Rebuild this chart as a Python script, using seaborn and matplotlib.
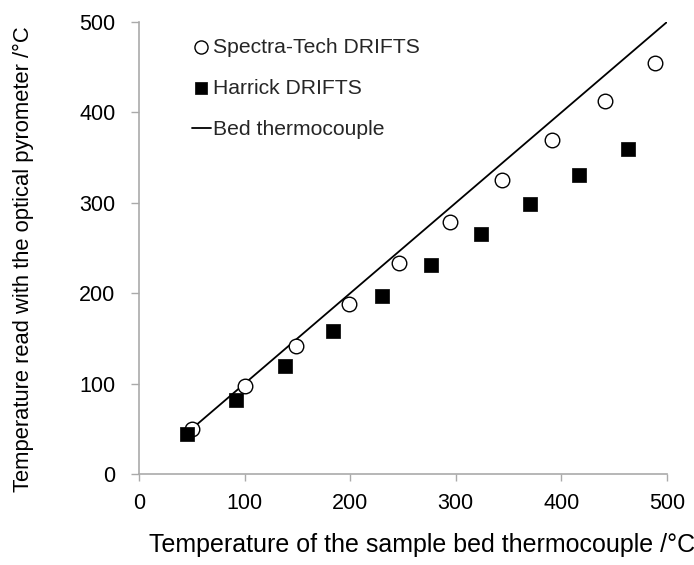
import matplotlib
matplotlib.use('Agg')
import matplotlib.pyplot as plt
import seaborn as sns

# ── DATA ──────────────────────────────────────────────────
spectra_x = [50, 100, 149, 199, 246, 295, 344, 391, 441, 489]
spectra_y = [50, 97, 142, 188, 233, 279, 325, 370, 413, 455]
harrick_x = [45, 92, 138, 184, 230, 277, 324, 370, 417, 463]
harrick_y = [44, 82, 119, 158, 197, 231, 266, 299, 331, 360]
bed_x = [47, 500]
bed_y = [47, 500]
ticks = [0, 100, 200, 300, 400, 500]

sns.set_theme(style='white')
plt.rcParams['font.family'] = ['Liberation Sans', 'DejaVu Sans']

fig = plt.figure(figsize=(6.94, 5.65), dpi=100, facecolor='white')
ax = fig.add_axes([0.2003, 0.161, 0.7607, 0.800])

sns.scatterplot(x=spectra_x, y=spectra_y, marker='o', s=110, color='white',
                edgecolor='black', linewidth=1.0, label='Spectra-Tech DRIFTS',
                ax=ax, zorder=3)
sns.scatterplot(x=harrick_x, y=harrick_y, marker='s', s=95, color='black',
                edgecolor='black', linewidth=0.5, label='Harrick DRIFTS',
                ax=ax, zorder=3)
sns.lineplot(x=bed_x, y=bed_y, color='black', linewidth=1.3,
             label='Bed thermocouple', ax=ax, zorder=2)

ax.set_xlim(0, 500); ax.set_ylim(0, 500)
ax.set_xticks(ticks); ax.set_yticks(ticks)
ax.tick_params(axis='both', labelsize=15.5, colors='#aaaaaa', labelcolor='black',
               direction='out', width=1, bottom=True, left=True)
ax.tick_params(axis='y', length=6, pad=11)
ax.tick_params(axis='x', length=5, pad=9)
for side in ['top', 'right']:
    ax.spines[side].set_visible(False)
for side in ['left', 'bottom']:
    ax.spines[side].set_color('#aaaaaa'); ax.spines[side].set_linewidth(1.2)

ax.set_xlabel('Temperature of the sample bed thermocouple /°C', fontsize=18,
              color='black')
ax.set_ylabel('Temperature read with the optical pyrometer /°C', fontsize=15.8,
              color='black')
ax.xaxis.set_label_coords(0.536, -0.13)
ax.yaxis.set_label_coords(-0.198, 0.476)

leg = ax.legend(loc='upper left', bbox_to_anchor=(0.064, 1.007), frameon=False,
                fontsize=15.2, handlelength=0.9, handletextpad=0.1,
                labelspacing=1.05, markerscale=0.9)

plt.savefig('out.png', dpi=100, facecolor='white')
